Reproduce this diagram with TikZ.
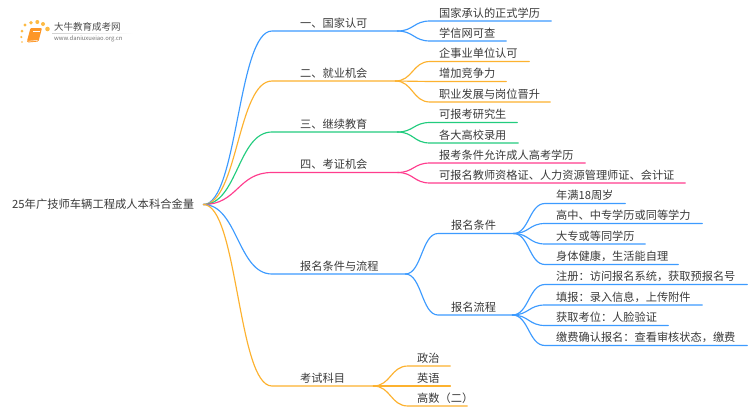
\documentclass[tikz,border=0pt]{standalone}
\usepackage{fontspec}
\setmainfont{Noto Sans CJK SC}
\usetikzlibrary{calc}
\definecolor{cblue}{HTML}{3D9BFF}
\definecolor{corange}{HTML}{FDB22F}
\definecolor{cgreen}{HTML}{22CC7E}
\definecolor{cpink}{HTML}{FF3D8E}
\definecolor{ctext}{HTML}{3A3A3A}
\tikzset{
  labelnode/.style={anchor=south west,inner xsep=0pt,inner ysep=3.6pt,text depth=0pt,font=\fontsize{11.2}{11.2}\selectfont,text=ctext,align=left},
  rootnode/.style={anchor=west,inner xsep=0pt,inner ysep=0pt,text width=191pt,font=\fontsize{11.3}{11.3}\selectfont,text=ctext,align=left},
  branch/.style={line width=1.15pt,line cap=round,line join=round},
  logotitle/.style={anchor=west,inner sep=0pt,font=\fontsize{9.5}{10}\selectfont,text=black!70},
  logourl/.style={anchor=west,inner sep=0pt,font=\fontsize{5.9}{6}\selectfont,text=black!55}
}
% name, line start x, line end x, line y, text offset, text
\newcommand{\mapnode}[6]{%
  \pgfmathsetmacro{\nodew}{#3-#2}%
  \node[labelnode,text width=\nodew pt] (#1) at (#2,#4) {\hspace*{#5pt}#6};%
}
\newcommand{\maplink}[3]{%
  \draw[branch,#3] let \p1=(#1),\p2=(#2.south west),\p3=($(\p1)!0.5!(\p2)$) in
    (\p1) .. controls (\x3,\y1) and (\x3,\y2) .. (\p2) -- (#2.south east);%
}
\begin{document}
\begin{tikzpicture}[x=1pt,y=-1pt]
\useasboundingbox (0,0) rectangle (750,410);
\fill[white] (0,0) rectangle (750,410);
% logo
\foreach \px/\py/\pr in {22/42/.9,21.3/37/1.2,22/31/1.5,25/25/1.7,31/22.7/1.9,37.3/22/2,43/24/2,47.5/29/2.3}
  \fill[corange!90!white] (\px,\py) circle (\pr);
\fill[corange!85!red,rounded corners=1pt] (30.5,28) -- (42,28) -- (38.5,41.5) -- (27.5,42.5) -- (27,41) -- cycle;
\draw[white,line width=.5pt] (28.4,41.2) -- (37.6,40.4);
\draw[white,line width=.5pt] (33,31) -- (39.5,31);
\node[logotitle] (logot) at (54,27) {大牛教育成考网};
\node[logourl] (logou) at (54,39) {www.daniuxueiao.org.cn};
\shade[left color=black!18,right color=white] (52,33) rectangle (133,33.6);
% root
\node[rootnode] (root) at (12,204.5) {25年广技师车辆工程成人本科合金量};
% level 1
\mapnode{a}{272}{397}{31}{28}{一、国家认可}
\mapnode{b}{272}{395}{81}{28}{二、就业机会}
\mapnode{c}{272}{397}{132}{28}{三、继续教育}
\mapnode{d}{272}{397}{172.5}{28}{四、考证机会}
\mapnode{e}{272}{405}{274}{28}{报名条件与流程}
\mapnode{f}{272}{373}{386}{28}{考试科目}
% level 2
\mapnode{a1}{430}{551}{21}{9}{国家承认的正式学历}
\mapnode{a2}{430}{506}{41}{9}{学信网可查}
\mapnode{b1}{430}{529}{61.5}{9}{企事业单位认可}
\mapnode{b2}{430}{506}{81.5}{9}{增加竞争力}
\mapnode{b3}{430}{550}{102}{9}{职业发展与岗位晋升}
\mapnode{c1}{430}{517}{122.5}{9}{可报考研究生}
\mapnode{c2}{430}{518}{143}{9}{各大高校录用}
\mapnode{d1}{430}{585}{163}{9}{报考条件允许成人高考学历}
\mapnode{d2}{430}{685}{183}{9}{可报名教师资格证、人力资源管理师证、会计证}
\mapnode{e1}{438}{513}{233.5}{13}{报名条件}
\mapnode{e2}{438}{512}{315}{13}{报名流程}
\mapnode{f1}{408}{450}{366}{9}{政治}
\mapnode{f2}{408}{450}{386}{9}{英语}
\mapnode{f3}{408}{467}{406}{9}{高数（二）}
% level 3
\mapnode{g1}{545}{625}{203.5}{11}{年满18周岁}
\mapnode{g2}{545}{702}{223.5}{11}{高中、中专学历或同等学力}
\mapnode{g3}{545}{645}{244}{11}{大专或等同学历}
\mapnode{g4}{545}{678}{264.5}{11}{身体健康，生活能自理}
\mapnode{h1}{545}{747}{284.5}{11}{注册：访问报名系统，获取预报名号}
\mapnode{h2}{545}{702}{305}{11}{填报：录入信息，上传附件}
\mapnode{h3}{545}{668}{325.5}{11}{获取考位：人脸验证}
\mapnode{h4}{545}{747}{345.5}{11}{缴费确认报名：查看审核状态，缴费}
% connectors
\maplink{root.east}{a}{cblue}
\maplink{root.east}{b}{corange}
\maplink{root.east}{c}{cgreen}
\maplink{root.east}{d}{cpink}
\maplink{root.east}{e}{cblue}
\maplink{root.east}{f}{corange}
\maplink{a.south east}{a1}{cblue}
\maplink{a.south east}{a2}{cblue}
\maplink{b.south east}{b1}{corange}
\maplink{b.south east}{b2}{corange}
\maplink{b.south east}{b3}{corange}
\maplink{c.south east}{c1}{cgreen}
\maplink{c.south east}{c2}{cgreen}
\maplink{d.south east}{d1}{cpink}
\maplink{d.south east}{d2}{cpink}
\maplink{e.south east}{e1}{cblue}
\maplink{e.south east}{e2}{cblue}
\maplink{e1.south east}{g1}{cblue}
\maplink{e1.south east}{g2}{cblue}
\maplink{e1.south east}{g3}{cblue}
\maplink{e1.south east}{g4}{cblue}
\maplink{e2.south east}{h1}{cblue}
\maplink{e2.south east}{h2}{cblue}
\maplink{e2.south east}{h3}{cblue}
\maplink{e2.south east}{h4}{cblue}
\maplink{f.south east}{f1}{corange}
\maplink{f.south east}{f2}{corange}
\maplink{f.south east}{f3}{corange}
\end{tikzpicture}
\end{document}
